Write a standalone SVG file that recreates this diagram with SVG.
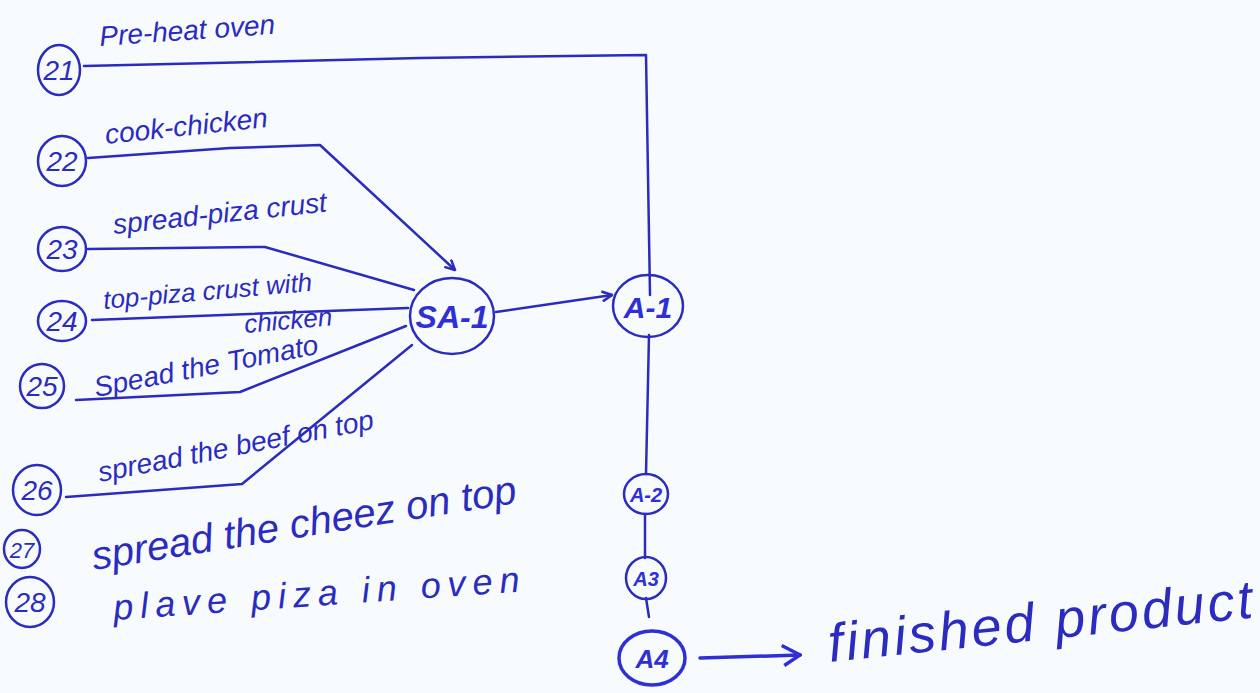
<svg xmlns="http://www.w3.org/2000/svg" width="1260" height="693" viewBox="0 0 1260 693">
  <defs>
    <marker id="arr" viewBox="0 0 12 12" refX="11" refY="6" markerWidth="12" markerHeight="12" markerUnits="userSpaceOnUse" orient="auto">
      <path d="M1,1 L11,6 L1,11" fill="none" stroke="#2b2bbf" stroke-width="2.5"/>
    </marker>
    <marker id="arrBig" viewBox="0 0 24 24" refX="22" refY="12" markerWidth="24" markerHeight="24" markerUnits="userSpaceOnUse" orient="auto">
      <path d="M4,2 L22,12 L6,22" fill="none" stroke="#2f2fd6" stroke-width="3.5"/>
    </marker>
    <style>
      .ink { fill: none; stroke: #2b2bbf; stroke-width: 2.5; stroke-linecap: round; stroke-linejoin: round; }
      .bold { fill: none; stroke: #2f2fd6; stroke-width: 3.5; stroke-linecap: round; }
      .num { font-family: "Liberation Sans", sans-serif; font-size: 28px; fill: #2b2bbf; font-style: italic; }
      .lbl { font-family: "Liberation Sans", sans-serif; font-size: 28px; fill: #2b2bbf; font-style: italic; }
      .big { font-family: "Liberation Sans", sans-serif; font-size: 36px; fill: #2b2bbf; font-style: italic; }
      .abig { font-family: "Liberation Sans", sans-serif; font-weight: bold; fill: #2f2fd6; font-style: italic; }
    </style>
  </defs>
  <rect width="1260" height="693" fill="#f7fbfd"/>

  <g id="connectors">
    <polyline class="ink" points="84,66 420,58 646,55 650,295"/>
    <polyline class="ink" points="88,158 230,148 320,145 455,270" marker-end="url(#arr)"/>
    <polyline class="ink" points="88,249 265,247 414,290"/>
    <polyline class="ink" points="92,320 408,308"/>
    <polyline class="ink" points="76,400 240,392 406,326"/>
    <polyline class="ink" points="66,497 242,484 412,345"/>
    <polyline class="ink" points="496,312 612,295" marker-end="url(#arr)"/>
    <polyline class="ink" points="649,335 646,474"/>
    <polyline class="ink" points="645,514 645,558"/>
    <polyline class="ink" points="646,598 649,617"/>
    <polyline class="bold" points="700,658 800,655" marker-end="url(#arrBig)"/>
  </g>

  <g id="n21">
    <ellipse class="ink" cx="59" cy="70" rx="21" ry="25"/>
    <text class="num" x="59" y="80" text-anchor="middle">21</text>
    <text class="lbl" x="100" y="46" transform="rotate(-4 100 46)">Pre-heat oven</text>
  </g>
  <g id="n22">
    <ellipse class="ink" cx="62" cy="161" rx="24" ry="25"/>
    <text class="num" x="62" y="171" text-anchor="middle">22</text>
    <text class="lbl" x="106" y="144" transform="rotate(-6 106 144)">cook-chicken</text>
  </g>
  <g id="n23">
    <ellipse class="ink" cx="62" cy="249" rx="24" ry="22"/>
    <text class="num" x="62" y="259" text-anchor="middle">23</text>
    <text class="lbl" x="114" y="234" transform="rotate(-6 114 234)">spread-piza crust</text>
  </g>
  <g id="n24">
    <ellipse class="ink" cx="62" cy="321" rx="24" ry="20"/>
    <text class="num" x="62" y="331" text-anchor="middle">24</text>
    <text class="lbl" x="104" y="309" transform="rotate(-5 104 309)" style="font-size:26px">top-piza crust with</text>
    <text class="lbl" x="245" y="333" transform="rotate(-5 245 333)" style="font-size:26px">chicken</text>
  </g>
  <g id="n25">
    <ellipse class="ink" cx="42" cy="386" rx="22" ry="22"/>
    <text class="num" x="42" y="396" text-anchor="middle">25</text>
    <text class="lbl" x="96" y="397" transform="rotate(-11 96 397)">Spead the Tomato</text>
  </g>
  <g id="n26">
    <ellipse class="ink" cx="37" cy="490" rx="24" ry="25"/>
    <text class="num" x="37" y="500" text-anchor="middle">26</text>
    <text class="lbl" x="100" y="482" transform="rotate(-11 100 482)">spread the beef on top</text>
  </g>
  <g id="n27">
    <ellipse class="ink" cx="22" cy="549" rx="18" ry="19"/>
    <text class="num" x="22" y="558" text-anchor="middle" style="font-size:22px">27</text>
    <text class="big" x="94" y="570" transform="rotate(-9 94 570)" style="font-size:40px">spread the cheez on top</text>
  </g>
  <g id="n28">
    <ellipse class="ink" cx="30" cy="602" rx="24" ry="25"/>
    <text class="num" x="30" y="612" text-anchor="middle">28</text>
    <text class="big" x="114" y="620" transform="rotate(-4 114 620)" style="letter-spacing:7px">plave piza in oven</text>
  </g>

  <g id="SA-1">
    <ellipse class="ink" cx="452" cy="316" rx="42" ry="38"/>
    <text class="abig" x="452" y="328" text-anchor="middle" style="font-size:32px">SA-1</text>
  </g>
  <g id="A-1">
    <ellipse class="ink" cx="648" cy="306" rx="35" ry="31"/>
    <text class="abig" x="648" y="318" text-anchor="middle" style="font-size:30px">A-1</text>
  </g>
  <g id="A-2">
    <ellipse class="ink" cx="646" cy="494" rx="22" ry="20"/>
    <text class="abig" x="646" y="502" text-anchor="middle" style="font-size:20px">A-2</text>
  </g>
  <g id="A3">
    <ellipse class="ink" cx="646" cy="578" rx="20" ry="21"/>
    <text class="abig" x="646" y="586" text-anchor="middle" style="font-size:20px">A3</text>
  </g>
  <g id="A4">
    <ellipse class="ink" cx="652" cy="658" rx="33" ry="27" style="stroke-width:3.5;stroke:#2f2fd6"/>
    <text class="abig" x="652" y="668" text-anchor="middle" style="font-size:26px">A4</text>
  </g>

  <g id="finished">
    <text x="830" y="662" transform="rotate(-6 830 662)" style="font-family:'Liberation Sans',sans-serif;font-style:italic;font-size:54px;fill:#2b2bbf;letter-spacing:3px">finished product</text>
  </g>
</svg>
